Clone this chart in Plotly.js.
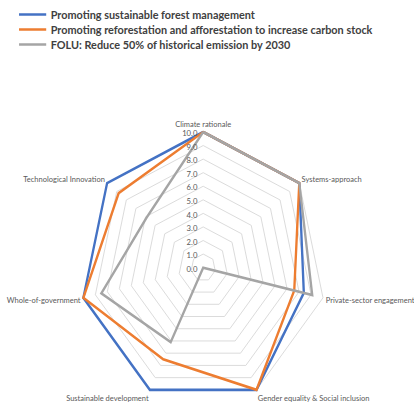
<!DOCTYPE html>
<html>
<head>
<meta charset="utf-8">
<script src="https://cdn.plot.ly/plotly-3.0.1.min.js"></script>
<style>
html,body{margin:0;padding:0;background:#fff;overflow:hidden;width:414px;height:406px;}
#plot{width:457px;height:406px;transform:scaleX(0.9059);transform-origin:0 0;}
</style>
</head>
<body>
<div id="plot"></div>
<script>
const categories = ['Climate rationale','Systems-approach','Private-sector engagement','Gender equality & Social inclusion','Sustainable development','Whole-of-government','Technological Innovation'];
const seriesNames = ['Promoting sustainable forest management','Promoting reforestation and afforestation to increase carbon stock','FOLU: Reduce 50% of historical emission by 2030'];
const sustainableForest = [10, 10, 8.4, 10, 10, 10, 10];
const reforestation = [10, 10, 7.6, 10, 7.5, 10, 8.8];
const folu = [10, 10, 9.1, 0, 6.1, 8.5, 5.9];
const radialTicks = [0,1,2,3,4,5,6,7,8,9,10];
const colors = ['#4472C4', '#ED7D31', '#A5A5A5'];

const W = 457, H = 406;
const legendIds = ['legend', 'legend2', 'legend3'];
const allSeries = [sustainableForest, reforestation, folu];
const traces = allSeries.map((vals, i) => ({
  type: 'scatterpolar',
  mode: 'lines',
  r: vals.concat([vals[0]]),
  theta: categories.concat([categories[0]]),
  name: seriesNames[i],
  legend: legendIds[i],
  cliponaxis: false,
  line: {color: colors[i], width: 2.6},
  hoverinfo: 'skip'
}));

const rMax = 10.2;
const cx = 224.3, cy = 269, R = 137 * rMax / 10;
const layout = {
  width: W, height: H,
  margin: {l: 0, r: 0, t: 0, b: 0},
  paper_bgcolor: '#fff',
  font: {family: 'Lato, sans-serif', color: '#595959'},
  showlegend: true,
  polar: {
    domain: {x: [(cx - R) / W, (cx + R) / W], y: [(H - cy - R) / H, (H - cy + R) / H]},
    bgcolor: '#fff',
    gridshape: 'linear',
    radialaxis: {
      range: [0, rMax], tickvals: radialTicks, tickformat: '.1f',
      angle: 90, side: 'counterclockwise', showline: false, ticks: '',
      gridcolor: '#d9d9d9', gridwidth: 1,
      tickfont: {family: 'Lato, sans-serif', size: 8.5, color: '#595959'}
    },
    angularaxis: {
      direction: 'clockwise', rotation: 90, showgrid: false,
      showline: false, ticks: '',
      tickfont: {family: 'Lato, sans-serif', size: 8.3, color: '#595959'}
    }
  }
};
legendIds.forEach((id, k) => {
  layout[id] = {
    x: 16 / W, y: 1 - (15 * k) / H, xanchor: 'left', yanchor: 'top',
    font: {family: 'Lato, sans-serif', size: 12, color: '#404040', weight: 'bold'},
    bgcolor: 'rgba(0,0,0,0)', itemwidth: 30
  };
});
Plotly.newPlot('plot', traces, layout, {staticPlot: true, displayModeBar: false});
</script>
</body>
</html>
